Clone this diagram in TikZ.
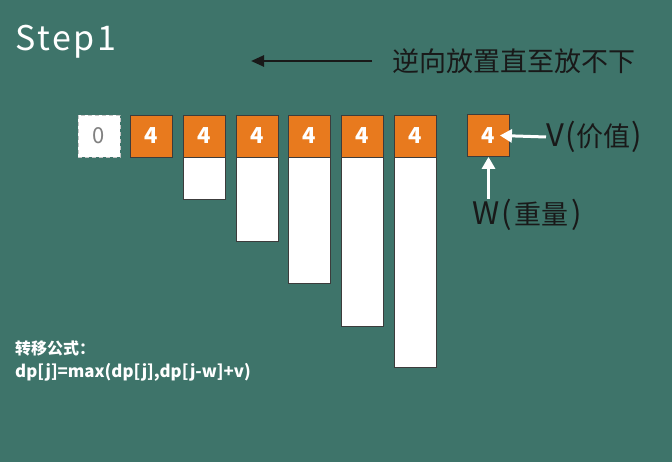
\documentclass[tikz,border=0pt]{standalone}
\usepackage{fontspec}
\setmainfont{Noto Sans CJK SC}
\newfontfamily\spacedfont{Noto Sans CJK SC}[LetterSpace=8]
\usetikzlibrary{arrows.meta}
\definecolor{bg}{RGB}{62,116,106}
\definecolor{org}{RGB}{232,122,30}
\definecolor{edge}{RGB}{60,60,60}
\definecolor{ink}{RGB}{25,25,25}
\newcommand{\latbig}[1]{{\fontsize{31}{32}\selectfont #1}}
\tikzset{
  cell/.style={draw=edge, line width=0.8pt, minimum width=42pt, minimum height=42pt, inner sep=0pt, font=\fontsize{22}{24}\selectfont\bfseries},
  ocell/.style={cell, fill=org, text=white},
  zcell/.style={cell, fill=white, draw=gray!45, dashed, dash pattern=on 4pt off 3pt, text=gray, font=\fontsize{22}{24}\selectfont},
  barbox/.style={draw=edge, line width=0.8pt, fill=white, minimum width=42pt, inner sep=0pt, anchor=north},
  warrow/.style={draw=white, line width=3pt, -{Triangle[length=12pt,width=13pt]}},
  barrow/.style={draw=ink, line width=2.5pt, -{Triangle[length=13pt,width=11pt]}},
  lbl/.style={text=ink, inner sep=0pt, font=\fontsize{27}{28}\selectfont}
}
\begin{document}
\begin{tikzpicture}[x=1pt,y=-1pt]
\useasboundingbox (0,0) rectangle (672,462);
\fill[bg] (0,0) rectangle (672,462);
% title
\node[anchor=base west, inner sep=0pt, text=white, font=\spacedfont\fontsize{34}{38}\selectfont] (title) at (15,51) {Step1};
% top arrow and text
\node[anchor=west, lbl, font=\fontsize{27}{30}\selectfont] (dir) at (392,61) {逆向放置直至放不下};
\coordinate (dstart) at (372,61);
\coordinate (dend) at (251,61);
\draw[barrow] (dstart) -- (dend);
% row of cells
\node[zcell] (c0) at (99,136) {0};
\node[ocell] (c1) at (151.5,136) {4};
\node[ocell] (c2) at (204.5,136) {4};
\node[ocell] (c3) at (257,136) {4};
\node[ocell] (c4) at (309.5,136) {4};
\node[ocell] (c5) at (362.5,136) {4};
\node[ocell] (c6) at (415,136) {4};
% bars
\node[barbox, minimum height=42pt] (bar2) at (c2.south) {};
\node[barbox, minimum height=84pt] (bar3) at (c3.south) {};
\node[barbox, minimum height=126pt] (bar4) at (c4.south) {};
\node[barbox, minimum height=169pt] (bar5) at (c5.south) {};
\node[barbox, minimum height=210pt] (bar6) at (c6.south) {};
% item
\node[ocell] (item) at (488.5,135.5) {4};
\node[lbl, anchor=west] (vl) at (546,137) {\latbig{V\kern1pt(}\kern1pt价值\kern1pt\latbig{)}};
\node[lbl, anchor=west] (wl) at (472,215) {\latbig{W\kern2pt(}\kern3pt重量\kern3pt\latbig{)}};
\draw[warrow] (vl.west) -- ([xshift=-10pt]item.east);
\draw[warrow] (wl.north -| item.south) -- (item.south);
% formula
\node[anchor=base west, inner sep=0pt, text=white, font=\fontsize{16}{18}\selectfont\bfseries] (ft) at (15,355) {转移公式：};
\node[anchor=base west, inner sep=0pt, text=white, font=\fontsize{16.8}{20}\selectfont\bfseries] (fm) at (15,377) {dp[j]=max(dp[j],dp[j-w]+v)};
\end{tikzpicture}
\end{document}
